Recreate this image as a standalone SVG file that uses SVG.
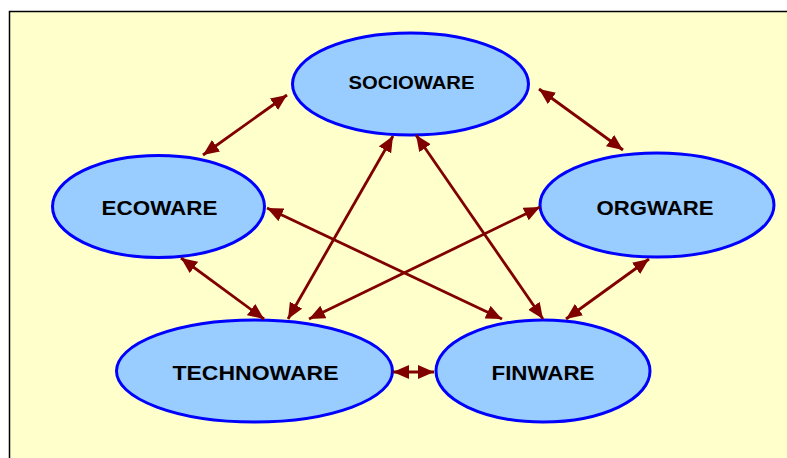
<svg xmlns="http://www.w3.org/2000/svg" width="787" height="458" viewBox="0 0 787 458">
  <style>
    .node ellipse { fill: #99CCFF; stroke: #0000FF; stroke-width: 3; }
    .node text { font-family: "Liberation Sans", Arial, sans-serif; font-weight: bold; fill: #000; text-anchor: middle; }
    .link { stroke: #800000; stroke-width: 2.8; fill: none; marker-start: url(#head); marker-end: url(#head); }
  </style>
  <defs>
    <marker id="head" viewBox="0 0 16 14" refX="16" refY="7" markerWidth="16" markerHeight="14" markerUnits="userSpaceOnUse" orient="auto-start-reverse">
      <path d="M0,0 L16,7 L0,14 Z" fill="#800000"/>
    </marker>
  </defs>

  <!-- background panel -->
  <rect x="0" y="0" width="787" height="458" fill="#FFFFFF"/>
  <rect x="9.5" y="11.5" width="800" height="470" fill="#FFFFCC" stroke="#000" stroke-width="1.5"/>

  <!-- nodes -->
  <g id="socioware" class="node">
    <ellipse cx="410.5" cy="84" rx="118" ry="51"/>
    <text x="411.5" y="89" font-size="19" textLength="126" lengthAdjust="spacingAndGlyphs">SOCIOWARE</text>
  </g>
  <g id="ecoware" class="node">
    <ellipse cx="158.5" cy="206.5" rx="106" ry="51"/>
    <text x="159.5" y="215" font-size="20" textLength="116" lengthAdjust="spacingAndGlyphs">ECOWARE</text>
  </g>
  <g id="orgware" class="node">
    <ellipse cx="657" cy="205" rx="117" ry="52"/>
    <text x="655" y="214.5" font-size="20" textLength="117" lengthAdjust="spacingAndGlyphs">ORGWARE</text>
  </g>
  <g id="technoware" class="node">
    <ellipse cx="254.5" cy="371" rx="138" ry="51"/>
    <text x="255.5" y="380" font-size="20" textLength="166" lengthAdjust="spacingAndGlyphs">TECHNOWARE</text>
  </g>
  <g id="finware" class="node">
    <ellipse cx="543" cy="371" rx="107" ry="51"/>
    <text x="543" y="380" font-size="20" textLength="103" lengthAdjust="spacingAndGlyphs">FINWARE</text>
  </g>

  <!-- connectors (double-headed) -->
  <g id="connectors">
    <line class="link" x1="287" y1="95" x2="203" y2="155"/>
    <line class="link" x1="539" y1="89" x2="623" y2="150"/>
    <line class="link" x1="393" y1="136" x2="288" y2="319"/>
    <line class="link" x1="416" y1="135" x2="543" y2="319"/>
    <line class="link" x1="267" y1="208" x2="502" y2="319"/>
    <line class="link" x1="540" y1="207" x2="309" y2="319"/>
    <line class="link" x1="181" y1="258" x2="264" y2="319"/>
    <line class="link" x1="649" y1="259" x2="566" y2="319"/>
    <line class="link" x1="393" y1="372" x2="434" y2="372"/>
  </g>
</svg>
